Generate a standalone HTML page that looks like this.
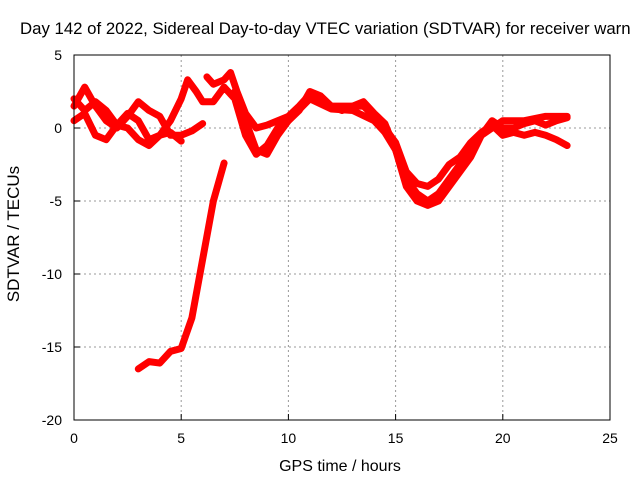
<!DOCTYPE html>
<html><head><meta charset="utf-8"><style>
body{margin:0;background:#fff;overflow:hidden}
svg{display:block;font-family:"Liberation Sans",sans-serif;font-size:14px}
</style></head><body>
<svg id="c" width="640" height="480">
<text x="20" y="34" style="font-size:16.8px">Day 142 of 2022, Sidereal Day-to-day VTEC variation (SDTVAR) for receiver warn</text>
<g id="grid"></g>
<g id="series"></g>
<rect x="74" y="55" width="536" height="365" fill="none" stroke="#000"/>
<g id="ticks"></g>
<text x="340" y="471" text-anchor="middle" style="font-size:16px">GPS time / hours</text>
<text x="19" y="234" text-anchor="middle" style="font-size:17px" transform="rotate(-90 19 234)">SDTVAR / TECUs</text>
</svg>
<script>
const xTicks=[0,5,10,15,20,25];
const yTicks=[5,0,-5,-10,-15,-20];
const track1=[[0,1.5],[0.5,2.8],[1,1.5],[1.5,0.5],[2,0],[2.5,0.8],[3,1.8],[3.5,1.2],[4,0.8],[4.5,-0.5],[5,-0.5],[5.5,-0.2],[6,0.3]];
const track2=[[0,0.5],[0.5,1],[1,-0.5],[1.5,-0.8],[2,0.2],[2.5,1],[3,0.5],[3.5,-0.8],[4,-0.5],[4.5,0.5],[5,2],[5.3,3.3],[5.7,2.5],[6,1.8],[6.5,1.8],[7,2.8],[7.5,2],[8,-0.5],[8.5,-1.8],[9,-1.2],[9.5,0],[10,0.5],[10.5,1.2],[11,2.5],[11.5,2.2],[12,1.5],[13,1.5],[13.5,1.8],[14,1],[14.5,0.3],[15,-1.5],[15.5,-3.5],[16,-4.5],[16.5,-5],[17,-4.5],[17.5,-3.5],[18,-2.5],[18.5,-1.5],[19,-0.5],[19.5,0.5],[20,0],[20.5,0],[21,0.3],[21.5,0.5],[22,0.2],[22.5,0.5],[23,0.7]];
const track3=[[0,2],[0.5,1.2],[1,1.8],[1.5,1.2],[2,0.2],[2.5,0],[3,-0.8],[3.5,-1.2],[4,-0.5],[4.5,-0.3],[5,-0.9]];
const track4=[[6.2,3.5],[6.5,3],[7,3.3],[7.3,3.8],[7.6,2.5],[8,1],[8.5,0],[9,0.2],[9.5,0.5],[10,0.8],[10.5,1.5],[11,2.3],[11.5,2],[12,1.5],[12.5,1.2],[13,1.5],[13.5,1.5],[14,0.8],[14.5,0],[15,-1],[15.5,-3],[16,-3.8],[16.5,-4],[17,-3.5],[17.5,-2.5],[18,-2],[18.5,-1],[19,-0.3],[19.5,0.2],[20,-0.5],[20.5,-0.3],[21,-0.5],[21.5,-0.3],[22,-0.5],[22.5,-0.8],[23,-1.2]];
const track5=[[7.5,2.5],[8,0.5],[8.5,-1.5],[9,-1.8],[9.5,-0.5],[10,0.5],[11,2],[12,1.3],[13,1.2],[14,0.5],[14.5,-0.3],[15,-1.5],[15.5,-4],[16,-5],[16.5,-5.3],[17,-5],[17.5,-4],[18,-3],[18.5,-2],[19,-0.5],[19.5,0],[20,0.5],[21,0.5],[22,0.8],[23,0.8]];
const trackLow=[[3,-16.5],[3.5,-16],[4,-16.1],[4.5,-15.3],[5,-15.1],[5.5,-13],[6,-9],[6.5,-5],[7,-2.4]];
const tracks=[track1,track2,track3,track4,track5,trackLow];
const X0=74,X1=610,Y0=420,Y1=55,xmin=0,xmax=25,ymin=-20,ymax=5;
const sx=h=>X0+(h-xmin)/(xmax-xmin)*(X1-X0);
const sy=v=>Y0-(v-ymin)/(ymax-ymin)*(Y0-Y1);
const NS="http://www.w3.org/2000/svg";
const grid=document.getElementById('grid'),ticks=document.getElementById('ticks'),ser=document.getElementById('series');
function mk(t,a,p){const e=document.createElementNS(NS,t);for(const k in a)e.setAttribute(k,a[k]);p.appendChild(e);return e;}
xTicks.forEach(t=>{const x=sx(t);
 if(t>xmin&&t<xmax){const g=mk('line',{x1:x,x2:x,y1:Y1,y2:Y0,stroke:'#999','stroke-dasharray':'2,3'},grid);
 
 }
 const l=mk('line',{x1:x,x2:x,y1:Y0,y2:Y0-6,stroke:'#000'},ticks);
 
 
 const tx=mk('text',{x:x,y:443,'text-anchor':'middle'},ticks);tx.textContent=t;
 
 });
yTicks.forEach(t=>{const y=sy(t);
 if(t>ymin&&t<ymax){const g=mk('line',{x1:X0,x2:X1,y1:y,y2:y,stroke:'#999','stroke-dasharray':'2,3'},grid);
 
 }
 const l=mk('line',{x1:X0,x2:X0+6,y1:y,y2:y,stroke:'#000'},ticks);
 
 
 const tx=mk('text',{x:62,y:y+5,'text-anchor':'end'},ticks);tx.textContent=t;
 
 });
tracks.forEach((tr,i)=>{
 const p=mk('polyline',{points:tr.map(d=>sx(d[0])+','+sy(d[1])).join(' '),fill:'none',stroke:'#f00','stroke-width':7,'stroke-linejoin':'round','stroke-linecap':'round'},ser);
 
 
});
</script>
</body></html>
